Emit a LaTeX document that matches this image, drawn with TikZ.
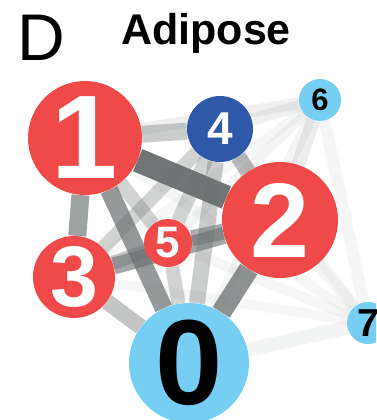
\documentclass[tikz,border=0pt]{standalone}
\usepackage{fontspec}
\setmainfont{Liberation Sans}
\usetikzlibrary{backgrounds}
\definecolor{clred}{RGB}{239,74,73}
\definecolor{cldark}{RGB}{47,88,168}
\definecolor{cllight}{RGB}{118,206,243}
\definecolor{edgegray}{RGB}{105,110,110}
\begin{document}
\begin{tikzpicture}[x=1pt,y=-1pt,
  hub/.style 2 args={circle,inner sep=0pt,minimum size=#1,
    font=\fontsize{#2}{#2}\selectfont\bfseries},
  redhub/.style={fill=clred,text=white},
  darkhub/.style={fill=cldark,text=white},
  lighthub/.style={fill=cllight,text=black}]
\useasboundingbox (0,0) rectangle (376,420);
\clip (0,0) rectangle (376,420);

% panel letter and title
\node[anchor=base west,inner sep=0pt,font=\fontsize{66}{66}\selectfont] (panel) at (17,60) {D};
\node[anchor=base west,inner sep=0pt,font=\fontsize{43}{43}\selectfont\bfseries] (title) at (121,45) {Adipose};

% clusters
\node[hub={114pt}{119},redhub] (n1) at (85,138) {1};
\node[hub={116pt}{106},redhub] (n2) at (280,220) {2};
\node[hub={82pt}{86},redhub] (n3) at (74,277) {3};
\node[hub={66pt}{46},darkhub] (n4) at (220,129) {4};
\node[hub={48pt}{44},redhub] (n5) at (168,243) {5};
\node[hub={42pt}{31},lighthub] (n6) at (320,100) {6};
\node[hub={42pt}{39},lighthub] (n7) at (368,323) {7};
\node[hub={120pt}{121},lighthub] (n0) at (189,363) {0};

% weighted links
\begin{scope}[on background layer]
\foreach \a/\b/\w/\o in {
  n1/n2/24/0.95, n1/n4/17/0.35, n1/n3/18/0.65, n1/n0/18/0.7,
  n1/n5/14/0.3, n1/n6/12/0.1, n1/n7/10/0.06,
  n2/n4/16/0.45, n2/n5/16/0.55, n2/n3/17/0.6, n2/n0/20/0.75,
  n2/n6/14/0.12, n2/n7/12/0.07,
  n0/n4/16/0.35, n0/n3/16/0.4, n0/n5/14/0.3, n0/n6/12/0.08, n0/n7/14/0.08,
  n3/n4/14/0.3, n3/n5/14/0.4, n3/n6/10/0.06, n3/n7/10/0.06,
  n4/n5/14/0.3, n4/n6/12/0.1, n4/n7/10/0.06,
  n5/n6/10/0.08, n5/n7/10/0.06, n6/n7/12/0.07}
  \draw[edgegray,line width=\w pt,opacity=\o] (\a) -- (\b);
\end{scope}
\end{tikzpicture}
\end{document}
